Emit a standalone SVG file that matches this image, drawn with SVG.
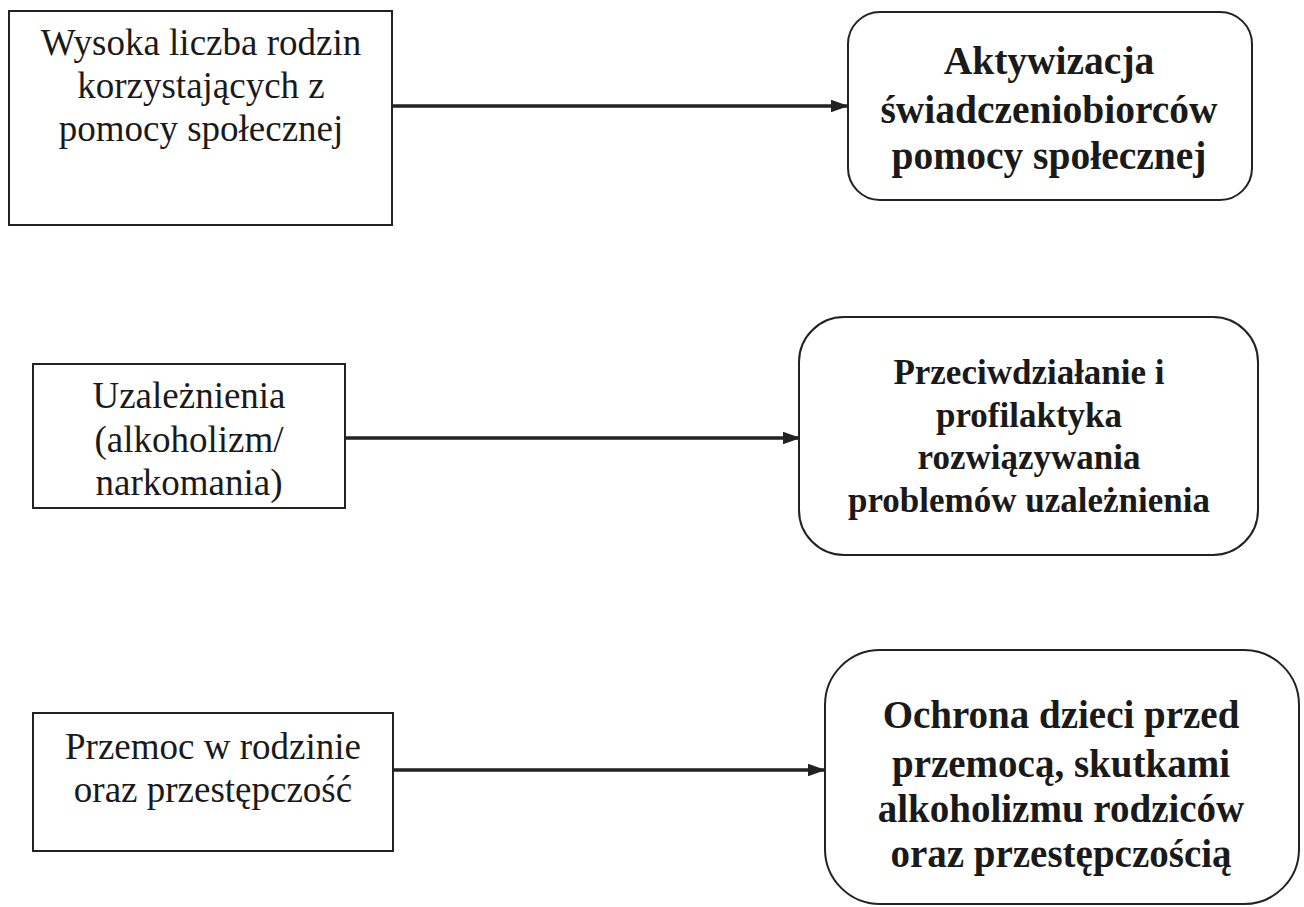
<svg xmlns="http://www.w3.org/2000/svg" width="1304" height="907" viewBox="0 0 1304 907">
<style>
.box{fill:#fff;stroke:#222;stroke-width:2}
.t{font-family:"Liberation Serif","Times New Roman",serif;fill:#1a1a1a;text-anchor:middle}
.n{font-size:37px}
.b{font-weight:bold}
.c{stroke:#222;stroke-width:3.5;fill:none}
</style>
<defs>
<marker id="ah" markerWidth="5" markerHeight="3.6" refX="4.6" refY="1.8" orient="auto" markerUnits="strokeWidth">
<path d="M0,0 L5,1.8 L0,3.6 z" fill="#222"/>
</marker>
</defs>
<rect width="1304" height="907" fill="#fff"/>
<g id="connectors">
<line class="c" x1="392" y1="106" x2="847" y2="106" marker-end="url(#ah)"/>
<line class="c" x1="345" y1="438" x2="799" y2="438" marker-end="url(#ah)"/>
<line class="c" x1="393" y1="770" x2="824" y2="770" marker-end="url(#ah)"/>
</g>
<g id="n1">
<rect class="box" x="9" y="11" width="383" height="214"/>
<text class="t n" x="201"><tspan x="201" y="55">Wysoka liczba rodzin</tspan><tspan x="201" y="98">korzystających z</tspan><tspan x="201" y="141">pomocy społecznej</tspan></text>
</g>
<g id="n2">
<rect class="box" x="848" y="12" width="404" height="188" rx="32" ry="32"/>
<text class="t b" x="1049" style="font-size:39.5px"><tspan x="1049" y="74">Aktywizacja</tspan><tspan x="1049" y="123">świadczeniobiorców</tspan><tspan x="1049" y="169">pomocy społecznej</tspan></text>
</g>
<g id="n3">
<rect class="box" x="33" y="364" width="312" height="144"/>
<text class="t n" x="189"><tspan x="189" y="408">Uzależnienia</tspan><tspan x="189" y="452">(alkoholizm/</tspan><tspan x="189" y="495">narkomania)</tspan></text>
</g>
<g id="n4">
<rect class="box" x="799" y="317" width="459" height="238" rx="45" ry="45"/>
<text class="t b" x="1029" style="font-size:35px"><tspan x="1029" y="384">Przeciwdziałanie i</tspan><tspan x="1029" y="427">profilaktyka</tspan><tspan x="1029" y="469">rozwiązywania</tspan><tspan x="1029" y="512">problemów uzależnienia</tspan></text>
</g>
<g id="n5">
<rect class="box" x="33" y="713" width="360" height="138"/>
<text class="t n" x="213"><tspan x="213" y="759">Przemoc w rodzinie</tspan><tspan x="213" y="802">oraz przestępczość</tspan></text>
</g>
<g id="n6">
<rect class="box" x="825" y="650" width="474" height="254" rx="55" ry="55"/>
<text class="t b" x="1061" style="font-size:39px"><tspan x="1061" y="728">Ochrona dzieci przed</tspan><tspan x="1061" y="777">przemocą, skutkami</tspan><tspan x="1061" y="822">alkoholizmu rodziców</tspan><tspan x="1061" y="867">oraz przestępczością</tspan></text>
</g>
</svg>
